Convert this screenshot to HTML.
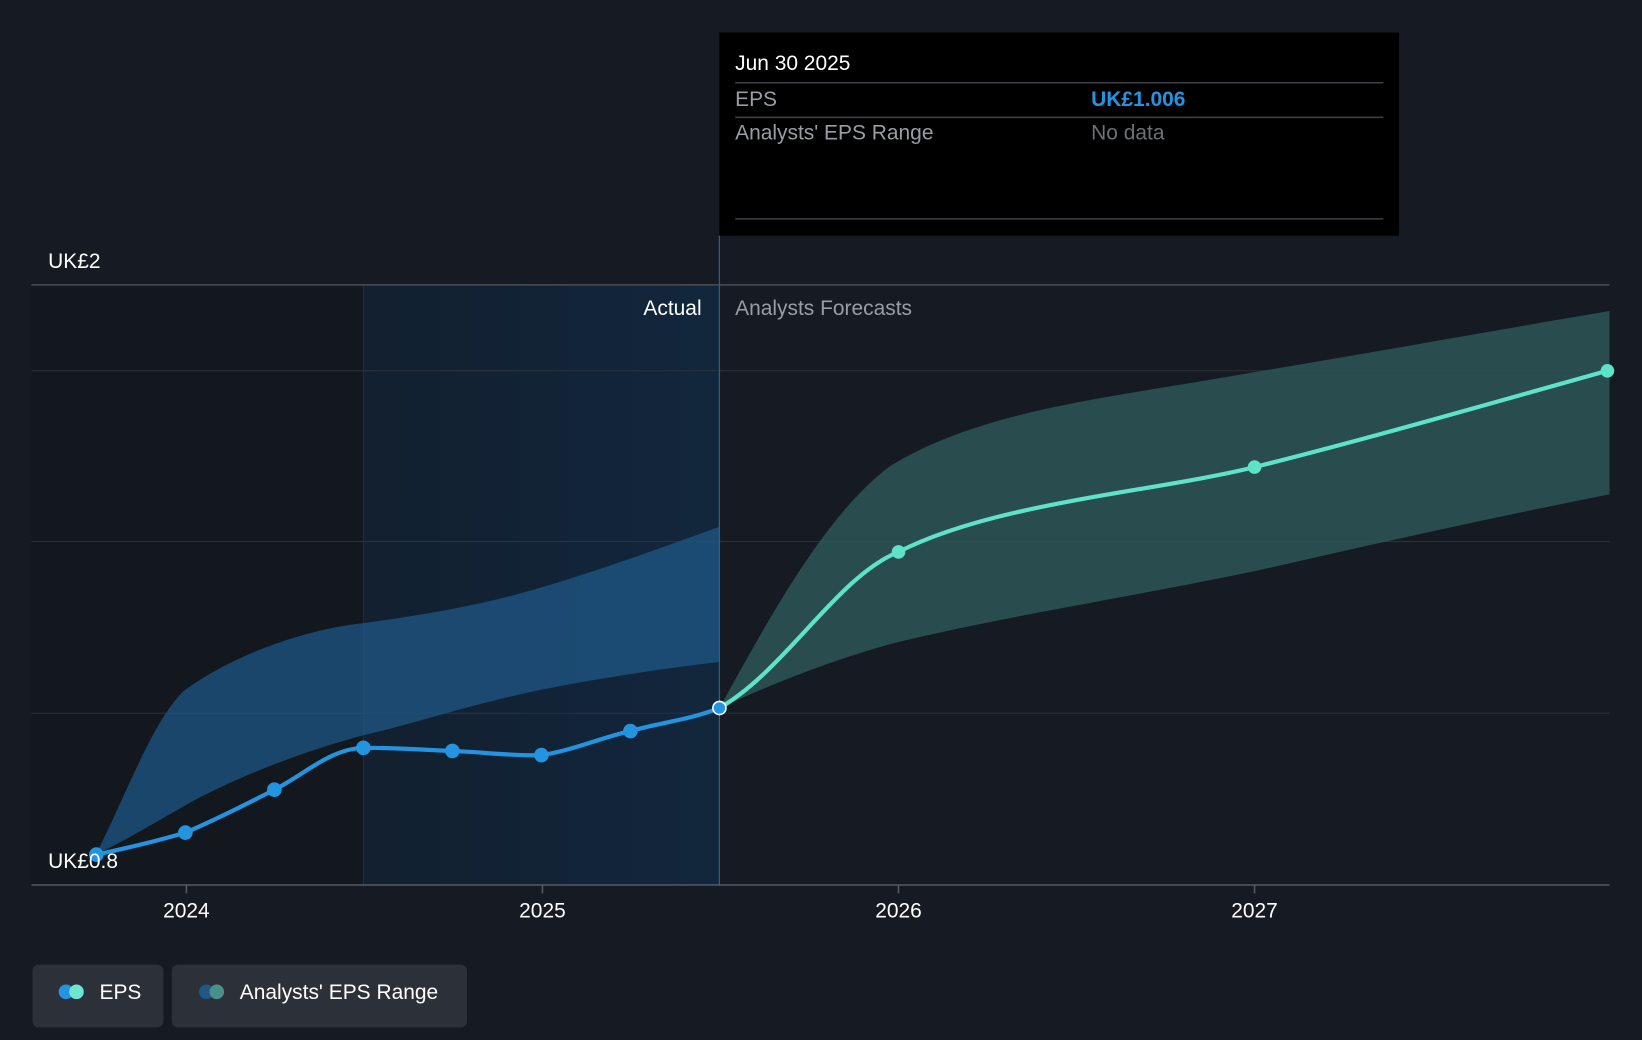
<!DOCTYPE html>
<html><head><meta charset="utf-8"><style>
html,body{margin:0;padding:0;background:#151a23;}
svg{display:block;font-family:"Liberation Sans",sans-serif;}
</style></head><body>
<svg width="1642" height="1040" viewBox="0 0 1568 993" preserveAspectRatio="none">
<defs>
<linearGradient id="act" x1="0" x2="1" y1="0" y2="0">
<stop offset="0" stop-color="#12202f"/><stop offset="1" stop-color="#12263d"/>
</linearGradient>
</defs>
<rect width="1568" height="993" fill="#151a23"/>
<rect x="30" y="272" width="317" height="573" fill="#13171e"/>
<rect x="347" y="272" width="340" height="573" fill="url(#act)"/>
<line x1="347" y1="272" x2="347" y2="845" stroke="#1e3048" stroke-width="1"/>
<g stroke="#2c323c" stroke-width="1">
<line x1="30" y1="354" x2="1537" y2="354"/>
<line x1="30" y1="517" x2="1537" y2="517"/>
<line x1="30" y1="681" x2="1537" y2="681"/>
</g>
<line x1="30" y1="272" x2="1537" y2="272" stroke="#4a4f58" stroke-width="1.5"/>
<!-- past range -->
<path d="M92,815 C120,760 145,690 175,660 C230,620 300,600 347,595 C420,585 470,575 520,560 C580,542 640,520 687,503 L687,632 C620,640 560,650 520,658 C450,672 400,690 347,702 C280,720 220,745 175,770 C140,790 110,808 92,815 Z" fill="#1f5785" fill-opacity="0.75"/>
<!-- forecast range -->
<path d="M687,676 C740,580 790,490 850,445 C940,390 1060,380 1200,355 C1320,335 1430,315 1537,297 L1537,472 C1420,495 1310,520 1200,545 C1080,570 950,590 850,615 C790,632 740,652 687,676 Z" fill="#2d5656" fill-opacity="0.85"/>
<line x1="687" y1="225" x2="687" y2="845" stroke="#2f5f8f" stroke-width="1.2"/>
<line x1="30" y1="845" x2="1537" y2="845" stroke="#555a63" stroke-width="1.5"/>
<g stroke="#555a63" stroke-width="1.5">
<line x1="178" y1="845" x2="178" y2="853"/><line x1="518" y1="845" x2="518" y2="853"/>
<line x1="858" y1="845" x2="858" y2="853"/><line x1="1198" y1="845" x2="1198" y2="853"/>
</g>
<!-- past EPS -->
<path d="M92,816 C120,810 150,803 177,795 C205,783 235,768 262,754 C290,740 315,715 347,714 C380,714 405,716 432,717 C460,718 490,722 517,721 C545,717 575,704 602,698 C630,690 660,687 687,676" fill="none" stroke="#2394e0" stroke-width="4"/>
<g fill="#2394e0">
<circle cx="92" cy="816" r="7"/><circle cx="177" cy="795" r="7"/><circle cx="262" cy="754" r="7"/>
<circle cx="347" cy="714" r="7"/><circle cx="432" cy="717" r="7"/><circle cx="517" cy="721" r="7"/>
<circle cx="602" cy="698" r="7"/>
</g>
<path d="M687,676 C750,640 800,550 858,527 C950,480 1100,470 1198,446 C1310,418 1420,386 1535,354" fill="none" stroke="#5ee3c8" stroke-width="4"/>
<g fill="#5ee3c8"><circle cx="858" cy="527" r="6.5"/><circle cx="1198" cy="446" r="6.5"/><circle cx="1535" cy="354" r="6.5"/></g>
<circle cx="687" cy="676" r="7" fill="#ffffff"/><circle cx="687" cy="676" r="5.5" fill="#2394e0"/>
<g font-size="20" fill="#ffffff">
<text x="46" y="256">UK£2</text>
<text x="46" y="829">UK£0.8</text>
<text x="670" y="301" text-anchor="end">Actual</text>
<text x="702" y="301" fill="#9a9da3">Analysts Forecasts</text>
<text x="178" y="876" text-anchor="middle">2024</text>
<text x="518" y="876" text-anchor="middle">2025</text>
<text x="858" y="876" text-anchor="middle">2026</text>
<text x="1198" y="876" text-anchor="middle">2027</text>
</g>
<!-- tooltip -->
<rect x="687" y="31" width="649" height="194" fill="#000000"/>
<g stroke="#3c3f44" stroke-width="1.5">
<line x1="702" y1="79" x2="1321" y2="79"/><line x1="702" y1="112" x2="1321" y2="112"/><line x1="702" y1="209" x2="1321" y2="209"/>
</g>
<g font-size="20">
<text x="702" y="67" fill="#ffffff">Jun 30 2025</text>
<text x="702" y="101" fill="#9a9da3">EPS</text>
<text x="1042" y="101" fill="#2394e0" font-weight="bold">UK£1.006</text>
<text x="702" y="133" fill="#9a9da3">Analysts' EPS Range</text>
<text x="1042" y="133" fill="#6d7075">No data</text>
</g>
<!-- legend -->
<rect x="31" y="921" width="125" height="60" rx="6" fill="#2c3039"/>
<rect x="164" y="921" width="282" height="60" rx="6" fill="#2c3039"/>
<circle cx="63" cy="947" r="7" fill="#2394e0"/><circle cx="73" cy="947" r="7" fill="#6ee6cf"/>
<circle cx="197" cy="947" r="7" fill="#1f5785"/><circle cx="207" cy="947" r="7" fill="#4a8f88"/>
<g font-size="20" fill="#ffffff">
<text x="95" y="954">EPS</text>
<text x="229" y="954">Analysts' EPS Range</text>
</g>
</svg>
</body></html>
